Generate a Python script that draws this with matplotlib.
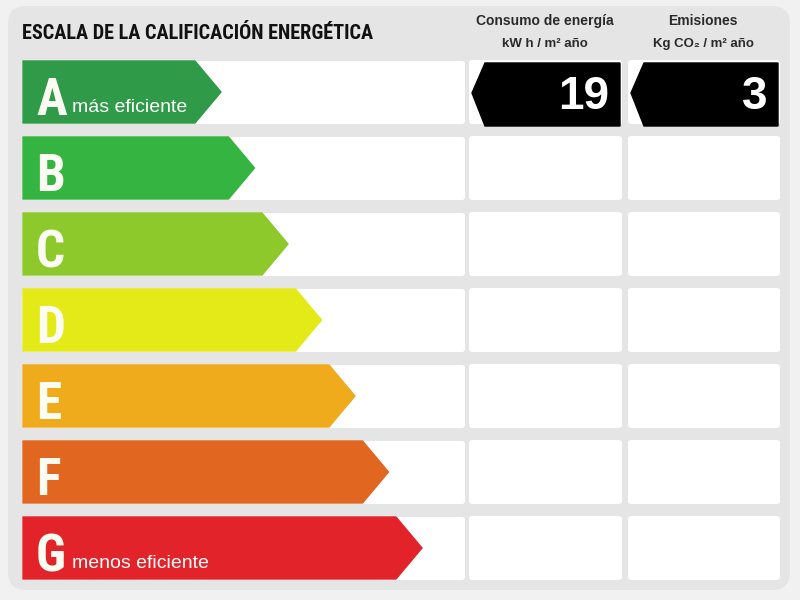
import matplotlib
matplotlib.use('Agg')
import matplotlib.pyplot as plt
from matplotlib.patches import Polygon, FancyBboxPatch
from matplotlib import font_manager

# datos de la etiqueta
ratings = ['A', 'B', 'C', 'D', 'E', 'F', 'G']
rating_colors = ['#2f9a47', '#35b441', '#8dc92a', '#e4ea17', '#efab1c', '#e1661f', '#e3232a']
rating_notes = {'A': 'más eficiente', 'G': 'menos eficiente'}
current_rating = 'A'
consumo = 19
emisiones = 3

title = 'ESCALA DE LA CALIFICACIÓN ENERGÉTICA'
col_headers = [('Consumo de energía', 'kW h / m² año'), ('Emisiones', 'Kg CO₂ / m² año')]

# buscar una fuente estrecha con negrita
bold_fams = {f.name for f in font_manager.fontManager.ttflist
             if f.weight in (700, 'bold') and '[' not in f.fname}
narrow = 'Liberation Sans'
for cand in ['Liberation Sans Narrow', 'Arial Narrow', 'Roboto Condensed',
             'Barlow Semi Condensed', 'Asap Condensed']:
    if cand in bold_fams:
        narrow = cand
        break
fam_narrow = [narrow, 'DejaVu Sans']
fam_sans = ['Liberation Sans', 'DejaVu Sans']

fig = plt.figure(figsize=(8, 6), dpi=100)
fig.patch.set_facecolor('#f1f1f1')
ax = fig.add_axes([0, 0, 1, 1])
ax.set_xlim(0, 800)
ax.set_ylim(600, 0)
ax.axis('off')

# marco gris
ax.add_patch(FancyBboxPatch((8, 6), 782, 584, boxstyle='round,pad=0,rounding_size=18',
                            fc='#e5e5e5', ec='none'))

row_top0, row_step, row_h = 61, 76, 62
left_x = 23
tip0, tip_step, tip_len = 221, 33.5, 26
col_x = [(469, 622), (628, 780)]

for i, (r, c) in enumerate(zip(ratings, rating_colors)):
    top = row_top0 + i * row_step
    bot = top + row_h
    mid = (top + bot) / 2

    # casillas blancas
    ax.add_patch(FancyBboxPatch((22, top), 443, row_h + 1, boxstyle='round,pad=0,rounding_size=3',
                                fc='white', ec='none'))
    for x0, x1 in col_x:
        ax.add_patch(FancyBboxPatch((x0, top - 1), x1 - x0, row_h + 2,
                                    boxstyle='round,pad=0,rounding_size=3', fc='white', ec='none'))

    # flecha de color
    tip = tip0 + i * tip_step
    body = tip - tip_len
    ax.add_patch(Polygon([(left_x, top), (body, top), (tip, mid), (body, bot), (left_x, bot)],
                         closed=True, fc=c, ec=c, lw=1, joinstyle='round'))
    ax.text(left_x + 13, bot - 8, r, color='#fbfdf2', fontsize=37, fontweight='bold',
            family=fam_narrow, ha='left', va='baseline')
    if r in rating_notes:
        ax.text(left_x + 49, bot - 11, rating_notes[r], color='white', fontsize=14,
                family=fam_sans, ha='left', va='baseline')

    # flechas negras con valores
    if r == current_rating:
        for (x0, x1), val in zip(col_x, [consumo, emisiones]):
            ax.add_patch(Polygon([(x0 + 3, mid + 1), (x0 + 16, top + 2), (x1 - 2, top + 2),
                                  (x1 - 2, bot + 3), (x0 + 16, bot + 3)],
                                 closed=True, fc='black', ec='black', lw=1))
            ax.text(x1 - 13, mid + 17, str(val), color='white', fontsize=33, fontweight='bold',
                    family=fam_sans, ha='right', va='baseline')

# cabecera
ax.text(22, 39, title, fontsize=14.6, fontweight='bold', family=fam_narrow,
        color='#111111', ha='left', va='baseline')
for (x0, x1), (h1, h2) in zip(col_x, col_headers):
    xc = (x0 + x1) / 2
    ax.text(xc - 1, 25, h1, fontsize=10, fontweight='bold', family=fam_sans, color='#2a2a2a',
            ha='center', va='baseline')
    ax.text(xc - 1, 47, h2, fontsize=9.5, fontweight='bold', family=fam_sans, color='#2a2a2a',
            ha='center', va='baseline')

fig.savefig('out.png', dpi=100, facecolor=fig.get_facecolor())
